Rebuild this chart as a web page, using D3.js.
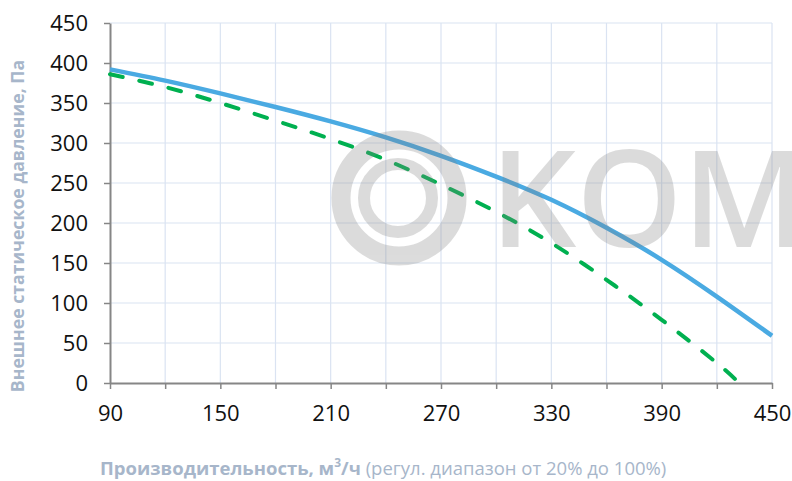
<!DOCTYPE html>
<html>
<head>
<meta charset="utf-8">
<script src="https://cdn.jsdelivr.net/npm/d3@7"></script>
<style>
  html, body { margin: 0; padding: 0; background: #fff; }
  svg { display: block; }
</style>
</head>
<body>
<svg id="svg"></svg>
<script>
// data
const flowX     = [90, 120, 150, 180, 210, 240, 270, 300, 330, 360, 390, 420, 450];
const pressMax  = [392, 378, 362, 345, 327, 307, 284, 258, 229, 194, 154, 108, 59];
const flowX2    = [90, 120, 150, 180, 210, 240, 270, 300, 330, 360, 390, 420, 432];
const pressMin  = [386, 370, 350, 328, 305, 279, 248, 214, 175, 129, 79, 25, 0];
const xTicks    = [90, 150, 210, 270, 330, 390, 450];
const xMinor    = [90, 120, 150, 180, 210, 240, 270, 300, 330, 360, 390, 420, 450];
const yTicks    = [0, 50, 100, 150, 200, 250, 300, 350, 400, 450];

const W = 792, H = 481;
const M = { l: 110, r: 20, t: 23, b: 98 };

const svg = d3.select('#svg').attr('width', W).attr('height', H);

const x = d3.scaleLinear().domain([90, 450]).range([M.l, W - M.r]);
const y = d3.scaleLinear().domain([0, 450]).range([H - M.b, M.t]);

const GRID = '#dae3f2', AXIS = '#868686', LABEL = '#a7b6ca';
const FONT = '"Open Sans", "Liberation Sans", sans-serif';

// grid
svg.append('g').selectAll('line').data(xMinor.slice(1)).join('line')
  .attr('x1', d => x(d)).attr('x2', d => x(d))
  .attr('y1', y(0)).attr('y2', y(450))
  .attr('stroke', GRID).attr('stroke-width', 1.2);
svg.append('g').selectAll('line').data(yTicks.slice(1)).join('line')
  .attr('x1', x(90)).attr('x2', x(450))
  .attr('y1', d => y(d)).attr('y2', d => y(d))
  .attr('stroke', GRID).attr('stroke-width', 1.2);

// axes
const yAxis = svg.append('g').attr('transform', `translate(${x(90)},0)`)
  .call(d3.axisLeft(y).tickValues(yTicks).tickSize(6).tickPadding(16).tickSizeOuter(0));
const xAxis = svg.append('g').attr('transform', `translate(0,${y(0)})`)
  .call(d3.axisBottom(x).tickValues(xMinor).tickSize(6).tickPadding(12).tickSizeOuter(0)
    .tickFormat(d => xTicks.includes(d) ? d : ''));
[yAxis, xAxis].forEach(a => {
  a.select('.domain').attr('stroke', AXIS).attr('stroke-width', 2);
  a.selectAll('.tick line').attr('stroke', AXIS).attr('stroke-width', 1.5);
  a.selectAll('.tick text').attr('fill', '#111').attr('font-size', '22px')
    .attr('font-family', FONT);
});
xAxis.selectAll('.tick text').attr('dy', '0.9em');

// curves
const line = d3.line().x(d => x(d[0])).y(d => y(d[1])).curve(d3.curveNatural);

svg.append('path').datum(d3.zip(flowX, pressMax))
  .attr('d', line).attr('fill', 'none')
  .attr('stroke', '#4aaae2').attr('stroke-width', 4.5);

svg.append('path').datum(d3.zip(flowX2, pressMin))
  .attr('d', line).attr('fill', 'none')
  .attr('stroke', '#00b050').attr('stroke-width', 4)
  .attr('stroke-linecap', 'round').attr('stroke-dasharray', '13,17');

// watermark on top, semi transparent
const wm = svg.append('g').attr('fill', 'none').attr('stroke', 'rgb(130,130,130)').attr('opacity', 0.28);
wm.append('circle').attr('cx', 399).attr('cy', 198).attr('r', 58).attr('stroke-width', 19);
wm.append('circle').attr('cx', 398).attr('cy', 198).attr('r', 34).attr('stroke-width', 12);
svg.append('text').attr('x', 490).attr('y', 247)
  .attr('font-family', FONT).attr('font-weight', 600).attr('font-size', '135px')
  .attr('fill', 'rgb(130,130,130)').attr('opacity', 0.28)
  .text('KOMFOVENT');

// axis titles
svg.append('text')
  .attr('transform', `translate(24,${(y(0) + y(450)) / 2 + 23}) rotate(-90)`)
  .attr('text-anchor', 'middle').attr('font-family', FONT)
  .attr('font-size', '17.7px').attr('font-weight', 700).attr('fill', LABEL)
  .text('Внешнее статическое давление, Па');

const xt = svg.append('text').attr('x', 100).attr('y', 475)
  .attr('font-family', FONT).attr('font-size', '18.5px').attr('fill', LABEL);
xt.append('tspan').attr('font-weight', 700).text('Производительность, м');
xt.append('tspan').attr('font-weight', 700).attr('font-size', '12px').attr('dy', -8).text('3');
xt.append('tspan').attr('font-weight', 700).attr('dy', 8).text('/ч');
xt.append('tspan').text(' (регул. диапазон от 20% до 100%)');
</script>
</body>
</html>
